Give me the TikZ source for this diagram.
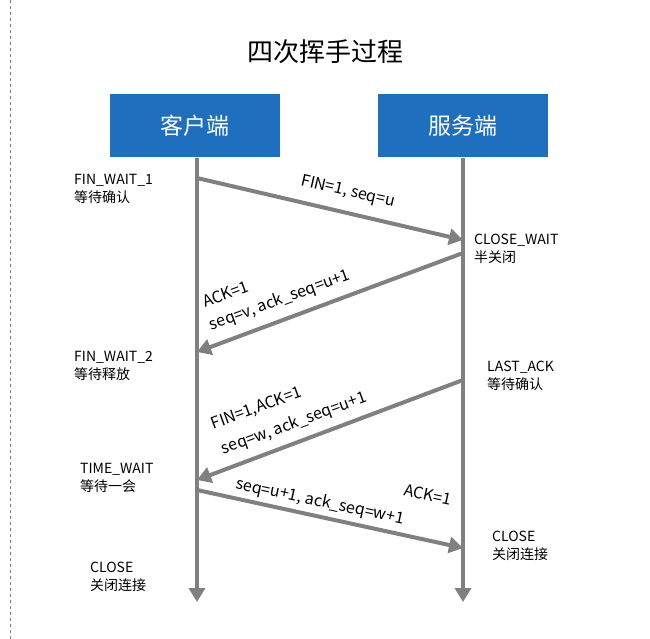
\documentclass[tikz,border=0pt]{standalone}
\usepackage{fontspec}
\setmainfont{Noto Sans CJK SC}
\usetikzlibrary{arrows.meta}
\definecolor{boxblue}{HTML}{1F6FBF}
\definecolor{lgray}{HTML}{808080}
\tikzset{
  hbox/.style={fill=boxblue,minimum width=170pt,minimum height=63pt,text=white,font=\fontsize{23}{27}\selectfont},
  msg/.style={draw=lgray,line width=4pt,-{Triangle[length=14pt,width=16pt]}},
  life/.style={draw=lgray,line width=4pt,-{Triangle[length=14pt,width=16pt]}},
  st/.style={align=left,font=\fontsize{14}{18}\selectfont,anchor=west,inner sep=0pt},
  lbl/.style={font=\fontsize{16}{19}\selectfont,inner sep=0pt}
}
\begin{document}
\begin{tikzpicture}[x=1pt,y=-1pt]
\useasboundingbox (0,0) rectangle (650,639);
\fill[white] (0,0) rectangle (650,639);
\draw[lgray,dashed,line width=1pt] (10,0) -- (10,639);
\node[font=\fontsize{26}{30}\selectfont] (title) at (325,52) {四次挥手过程};
\node[hbox] (c) at (195,126) {客户端};
\node[hbox] (s) at (463,126) {服务端};
\coordinate (cend) at (197,602);
\coordinate (send) at (463,602);
\draw[life] (c.south -| 197,0) -- (cend);
\draw[life] (s.south) -- (send);
\coordinate (a1) at (197,178); \coordinate (b1) at (463,240);
\coordinate (a2) at (463,253); \coordinate (b2) at (197,352);
\coordinate (a3) at (463,380); \coordinate (b3) at (197,480);
\coordinate (a4) at (197,490); \coordinate (b4) at (463,548);
\draw[msg] (a1) -- (b1);
\draw[msg] (a2) -- (b2);
\draw[msg] (a3) -- (b3);
\draw[msg] (a4) -- (b4);
\node[lbl,rotate=-13] (l1) at (348,192) {FIN=1, seq=u};
\node[lbl,rotate=20,anchor=west] (l2a) at (203,302) {ACK=1};
\node[lbl,rotate=20,anchor=west] (l2b) at (210,326) {seq=v, ack\_seq=u+1};
\node[lbl,rotate=20,anchor=west] (l3a) at (212,425) {FIN=1,ACK=1};
\node[lbl,rotate=20,anchor=west] (l3b) at (222,450) {seq=w, ack\_seq=u+1};
\node[lbl,rotate=-12] (l4a) at (320,502) {seq=u+1, ack\_seq=w+1};
\node[lbl,rotate=-12] (l4b) at (428,495) {ACK=1};
\node[st] (s1) at (74,189) {FIN\_WAIT\_1\\等待确认};
\node[st] (s2) at (74,366) {FIN\_WAIT\_2\\等待释放};
\node[st] (s3) at (80,478) {TIME\_WAIT\\等待一会};
\node[st] (s4) at (90,577) {CLOSE\\关闭连接};
\node[st] (s5) at (474,249) {CLOSE\_WAIT\\半关闭};
\node[st] (s6) at (487,376) {LAST\_ACK\\等待确认};
\node[st] (s7) at (492,546) {CLOSE\\关闭连接};
\end{tikzpicture}
\end{document}
